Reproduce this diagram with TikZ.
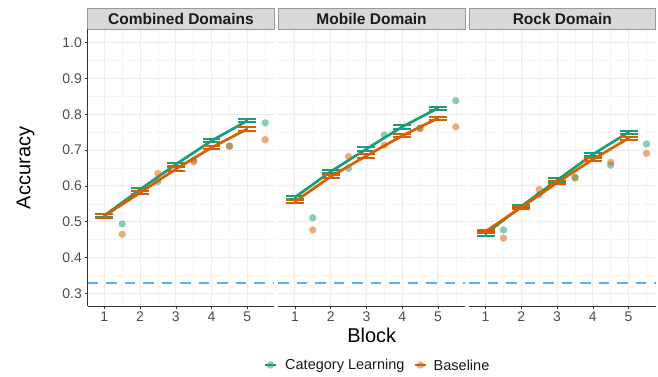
\documentclass[tikz,border=0pt]{standalone}
\usepackage{fontspec}
\setmainfont{Liberation Sans}
\definecolor{cgreen}{HTML}{1B9E77}
\definecolor{corange}{HTML}{D95F02}
\definecolor{cblue}{HTML}{56B4E9}
\definecolor{gmaj}{HTML}{EBEBEB}
\definecolor{gmin}{HTML}{F5F5F5}
\definecolor{axisc}{HTML}{333333}
\definecolor{tickc}{HTML}{4D4D4D}
\definecolor{txtc}{HTML}{1A1A1A}
\definecolor{stripfill}{HTML}{D9D9D9}
\definecolor{stripdraw}{HTML}{999999}
\tikzset{
  majgrid/.style={gmaj, line width=0.9pt},
  mingrid/.style={gmin, line width=0.5pt},
  chance/.style={cblue, line width=2.1pt, dash pattern=on 10.5pt off 8pt},
  axisline/.style={axisc, line width=0.8pt},
  tickmark/.style={axisc, line width=0.6pt},
  ticklab/.style={tickc, font=\fontsize{14}{16}\selectfont, inner sep=0pt},
  striptext/.style={txtc, font=\fontsize{15.5}{18}\selectfont\bfseries, inner sep=0pt},
  stripbox/.style={fill=stripfill, draw=stripdraw, line width=0.6pt},
  titlelab/.style={black, font=\fontsize{20}{24}\selectfont, inner sep=0pt},
  leglab/.style={txtc, font=\fontsize{14.5}{17}\selectfont, inner sep=0pt},
  meanline/.style={line width=2.7pt, line join=round},
  errbar/.style={line width=2pt},
  dot/.style={opacity=0.5},
}
\newcommand{\bL}{0.5357}
\newcommand{\bR}{5.755}
\newcommand{\vB}{0.2645}
\newcommand{\vT}{1.0369}
\newcommand{\vS}{1.097}
% panel background: #1 unused, #2 title, #3 name suffix
\newcommand{\panelbg}[3]{%
  \foreach \v in {0.35,0.45,0.55,0.65,0.75,0.85,0.95}
    \draw[mingrid] (\bL,\v) -- (\bR,\v);
  \foreach \b in {1.5,2.5,3.5,4.5,5.5}
    \draw[mingrid] (\b,\vB) -- (\b,\vT);
  \foreach \v in {0.3,0.4,0.5,0.6,0.7,0.8,0.9,1.0}
    \draw[majgrid] (\bL,\v) -- (\bR,\v);
  \foreach \b in {1,2,3,4,5}
    \draw[majgrid] (\b,\vB) -- (\b,\vT);
  \draw[stripbox] (\bL,\vT) rectangle (\bR,\vS);
  \node[striptext] (strip#3) at ({(\bL+\bR)/2},1.0665) {#2};
  \draw[axisline] (\bL,\vB) -- (\bR,\vB);
  \foreach \b in {1,2,3,4,5} {
    \draw[tickmark] (\b,\vB) -- ++(0,-2.5pt);
    \node[ticklab] (xt#3\b) at (\b,\vB) [yshift=-10.8pt] {\b};
  }
}
\newcommand{\grp}[4]{% color, line list, dot list, errorbar list
  \foreach \b/\v in {#3}
    \fill[#1, dot] (\b,\v) circle[radius=3.7pt];
  \draw[#1, meanline] plot coordinates {#2};
  \foreach \b/\v in {#4}
    \draw[#1, errbar] ({\b-0.25},{\v+0.0047}) -- ({\b+0.25},{\v+0.0047})
                      ({\b-0.25},{\v-0.0047}) -- ({\b+0.25},{\v-0.0047})
                      (\b,{\v-0.0047}) -- (\b,{\v+0.0047});
}
\begin{document}
\begin{tikzpicture}[x=1pt,y=1pt]
\useasboundingbox (0,0) rectangle (658,377);
\fill[white] (0,0) rectangle (658,377);

% Panel 1
\begin{scope}[shift={(68.55pt,-23.7pt)}, x=35.75pt, y=358pt]
  \panelbg{68.55}{Combined Domains}{a}
  \draw[axisline] (\bL,\vB) -- (\bL,\vT);
  \foreach \v/\t in {0.3/0.3,0.4/0.4,0.5/0.5,0.6/0.6,0.7/0.7,0.8/0.8,0.9/0.9,1.0/1.0} {
    \draw[tickmark] (\bL,\v) -- ++(-2.5pt,0);
    \node[ticklab, anchor=east] (yt\t) at (0.377,\v) {\t};
  }
  \draw[chance] (\bL,0.33) -- (\bR,0.33);
  \grp{cgreen}{(1,0.517) (2,0.590) (3,0.660) (4,0.726) (5,0.782)}
              {1.5/0.494,2.5/0.612,3.5/0.672,4.5/0.711,5.5/0.776}
              {1/0.517,2/0.590,3/0.660,4/0.726,5/0.782}
  \grp{corange}{(1,0.516) (2,0.581) (3,0.647) (4,0.707) (5,0.759)}
              {1.5/0.465,2.5/0.635,3.5/0.667,4.5/0.711,5.5/0.729}
              {1/0.516,2/0.581,3/0.647,4/0.707,5/0.759}
\end{scope}

% Panel 2
\begin{scope}[shift={(259.15pt,-23.7pt)}, x=35.75pt, y=358pt]
  \panelbg{259.15}{Mobile Domain}{b}
  \draw[chance] (\bL,0.33) -- (\bR,0.33);
  \grp{cgreen}{(1,0.568) (2,0.640) (3,0.703) (4,0.765) (5,0.817)}
              {1.5/0.511,2.5/0.649,3.5/0.742,4.5/0.762,5.5/0.838}
              {1/0.568,2/0.640,3/0.703,4/0.765,5/0.817}
  \grp{corange}{(1,0.556) (2,0.626) (3,0.684) (4,0.740) (5,0.789)}
              {1.5/0.477,2.5/0.682,3.5/0.714,4.5/0.760,5.5/0.765}
              {1/0.556,2/0.626,3/0.684,4/0.740,5/0.789}
\end{scope}

% Panel 3
\begin{scope}[shift={(449.85pt,-23.7pt)}, x=35.75pt, y=358pt]
  \panelbg{449.85}{Rock Domain}{c}
  \draw[chance] (\bL,0.33) -- (\bR,0.33);
  \grp{cgreen}{(1,0.466) (2,0.543) (3,0.616) (4,0.688) (5,0.750)}
              {1.5/0.477,2.5/0.575,3.5/0.622,4.5/0.658,5.5/0.717}
              {1/0.466,2/0.543,3/0.616,4/0.688,5/0.750}
  \grp{corange}{(1,0.473) (2,0.540) (3,0.609) (4,0.674) (5,0.733)}
              {1.5/0.454,2.5/0.590,3.5/0.624,4.5/0.666,5.5/0.691}
              {1/0.473,2/0.540,3/0.609,4/0.674,5/0.733}
\end{scope}

% Axis titles
\node[titlelab, rotate=90] (ytitle) at (25.5,209) {Accuracy};
\node[titlelab] (xtitle) at (371.7,41.3) {Block};

% Legend
\draw[cgreen, meanline] (265,12) -- (276,12);
\fill[cgreen, dot] (270.5,12) circle[radius=3.7pt];
\node[leglab, anchor=west] (leg1) at (285,11.5) {Category Learning};
\draw[corange, meanline] (415,12) -- (426,12);
\fill[corange, dot] (420.5,12) circle[radius=3.7pt];
\node[leglab, anchor=west] (leg2) at (433.5,11.5) {Baseline};
\end{tikzpicture}
\end{document}
